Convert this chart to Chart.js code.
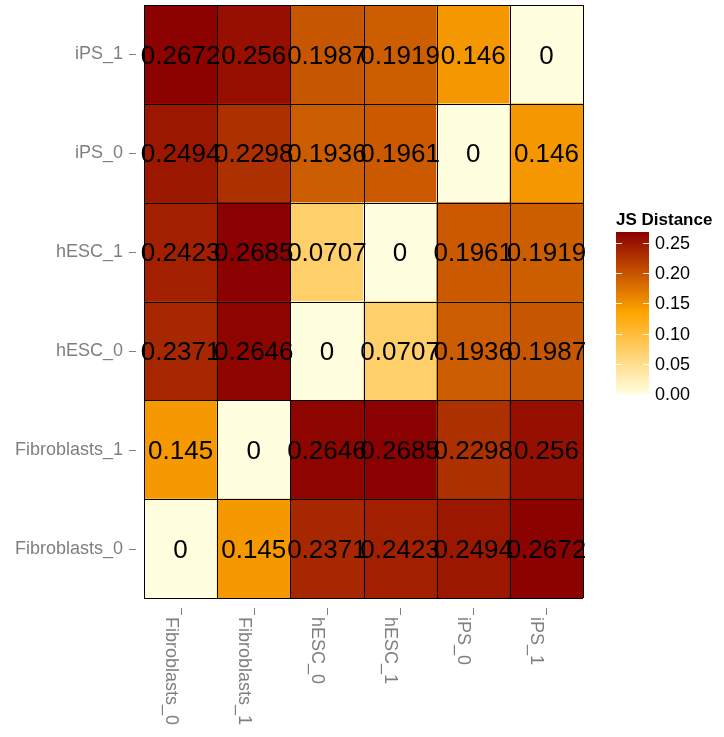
<!DOCTYPE html>
<html>
<head>
<meta charset="utf-8">
<script src="https://cdn.jsdelivr.net/npm/chart.js@4.4.1/dist/chart.umd.min.js"></script>
<style>
    html, body { margin: 0; padding: 0; background: #fff; }
</style>
</head>
<body>
<canvas id="heat" width="724" height="737"></canvas>
<script>
// samples, bottom row / left column first
var samples = ['Fibroblasts_0', 'Fibroblasts_1', 'hESC_0', 'hESC_1', 'iPS_0', 'iPS_1'];

// JS distance per row (row = y sample), columns follow samples
var distFib0 = [0, 0.145, 0.2371, 0.2423, 0.2494, 0.2672];
var distFib1 = [0.145, 0, 0.2646, 0.2685, 0.2298, 0.256];
var distHesc0 = [0.2371, 0.2646, 0, 0.0707, 0.1936, 0.1987];
var distHesc1 = [0.2423, 0.2685, 0.0707, 0, 0.1961, 0.1919];
var distIps0 = [0.2494, 0.2298, 0.1936, 0.1961, 0, 0.146];
var distIps1 = [0.2672, 0.256, 0.1987, 0.1919, 0.146, 0];

var legendTicks = [0, 0.05, 0.10, 0.15, 0.20, 0.25];
var legendTickLabels = ['0.00', '0.05', '0.10', '0.15', '0.20', '0.25'];
var legendTitle = 'JS Distance';

var rows = [distFib0, distFib1, distHesc0, distHesc1, distIps0, distIps1];
var FONT = "'Liberation Sans', Arial, Helvetica, sans-serif";
var GREY = '#7f7f7f';

// ------ colour scale: lightyellow -> orange -> darkred ------
var maxVal = Math.max.apply(null, rows.map(function(r) { return Math.max.apply(null, r); }));
var stops = [
    { v: 0, c: [255, 255, 224] },
    { v: maxVal / 2, c: [255, 165, 0] },
    { v: maxVal, c: [139, 0, 0] }
];

function fillColor(v) {
    var i = v <= stops[1].v ? 0 : 1;
    var t = (v - stops[i].v) / (stops[i + 1].v - stops[i].v);
    t = Math.max(0, Math.min(1, t));
    var a = stops[i].c, b = stops[i + 1].c;
    return 'rgb(' + Math.round(a[0] + (b[0] - a[0]) * t) + ',' +
        Math.round(a[1] + (b[1] - a[1]) * t) + ',' +
        Math.round(a[2] + (b[2] - a[2]) * t) + ')';
}

function fmt(v) { return String(v); }

// ------ extra drawing: cell borders, cell values, axis ticks, colourbar ------
var heatExtras = {
    id: 'heatExtras',
    afterDatasetsDraw: function(chart) {
        var ctx = chart.ctx;
        var xs = chart.scales.x, ys = chart.scales.y;
        var area = chart.chartArea;

        // cell borders
        ctx.save();
        ctx.strokeStyle = '#000';
        ctx.lineWidth = 1;
        ctx.beginPath();
        for (var i = 0; i <= samples.length; i++) {
            var px = Math.round(xs.getPixelForValue(i - 0.5)) + 0.5;
            ctx.moveTo(px, area.top);
            ctx.lineTo(px, area.bottom);
            var py = Math.round(ys.getPixelForValue(i)) + 0.5;
            ctx.moveTo(area.left, py);
            ctx.lineTo(area.right, py);
        }
        ctx.stroke();

        // values inside cells
        ctx.fillStyle = '#000';
        ctx.font = '26px ' + FONT;
        ctx.textAlign = 'center';
        ctx.textBaseline = 'middle';
        chart.data.datasets.forEach(function(ds, di) {
            var meta = chart.getDatasetMeta(di);
            meta.data.forEach(function(el, j) {
                ctx.fillText(fmt(ds.values[j]), el.x, (el.y + el.base) / 2 + 2);
            });
        });
        ctx.restore();
    },
    afterDraw: function(chart) {
        var ctx = chart.ctx;
        var xs = chart.scales.x, ys = chart.scales.y;
        var area = chart.chartArea;
        ctx.save();

        // y tick dashes
        ctx.strokeStyle = GREY;
        ctx.lineWidth = 1;
        ctx.beginPath();
        ys.ticks.forEach(function(t) {
            var py = Math.round(ys.getPixelForValue(t.value)) + 0.5;
            ctx.moveTo(area.left - 15, py);
            ctx.lineTo(area.left - 8, py);
        });
        // x tick dashes
        samples.forEach(function(s, i) {
            var px = Math.round(xs.getPixelForValue(i)) + 0.5;
            ctx.moveTo(px, area.bottom + 10);
            ctx.lineTo(px, area.bottom + 17);
        });
        ctx.stroke();

        // x labels, reading top to bottom
        ctx.fillStyle = GREY;
        ctx.font = '18px ' + FONT;
        ctx.textAlign = 'left';
        ctx.textBaseline = 'alphabetic';
        samples.forEach(function(s, i) {
            var px = xs.getPixelForValue(i);
            ctx.save();
            ctx.translate(px - 15, area.bottom + 19);
            ctx.rotate(Math.PI / 2);
            ctx.fillText(s, 0, 0);
            ctx.restore();
        });

        // colourbar legend
        var barX = 616, barW = 33, barTop = 232, barBottom = 394;
        var barH = barBottom - barTop;
        for (var k = 0; k < barH; k++) {
            var v = maxVal * (barH - k - 0.5) / barH;
            ctx.fillStyle = fillColor(v);
            ctx.fillRect(barX, barTop + k, barW, 1);
        }
        ctx.strokeStyle = 'rgba(255,255,255,0.85)';
        ctx.beginPath();
        legendTicks.forEach(function(v) {
            var py = Math.round(barBottom - v / maxVal * barH) + 0.5;
            ctx.moveTo(barX, py);
            ctx.lineTo(barX + 6, py);
            ctx.moveTo(barX + barW - 6, py);
            ctx.lineTo(barX + barW, py);
        });
        ctx.stroke();

        ctx.fillStyle = '#000';
        ctx.font = '18px ' + FONT;
        ctx.textBaseline = 'middle';
        legendTicks.forEach(function(v, i) {
            var py = barBottom - v / maxVal * barH;
            ctx.fillText(legendTickLabels[i], barX + barW + 6, py + 1);
        });
        ctx.font = 'bold 17px ' + FONT;
        ctx.textBaseline = 'alphabetic';
        ctx.fillText(legendTitle, barX, 225);
        ctx.restore();
    }
};

var datasets = rows.map(function(row, r) {
    return {
        label: samples[r],
        data: row.map(function() { return [r, r + 1]; }),
        values: row,
        backgroundColor: row.map(fillColor),
        borderWidth: 0,
        categoryPercentage: 1,
        barPercentage: 1,
        grouped: false
    };
});

Chart.defaults.font.family = FONT;

new Chart(document.getElementById('heat'), {
    type: 'bar',
    data: { labels: samples, datasets: datasets },
    options: {
        responsive: false,
        animation: false,
        devicePixelRatio: 1,
        layout: { padding: { left: 0, top: 5, right: 141, bottom: 0 } },
        plugins: { legend: { display: false }, tooltip: { enabled: false } },
        scales: {
            x: {
                type: 'category',
                grid: { display: false, drawTicks: false },
                border: { display: false },
                ticks: { display: false },
                afterFit: function(s) { s.height = 139; }
            },
            y: {
                type: 'linear',
                min: 0,
                max: samples.length,
                grid: { display: false, drawTicks: false, tickLength: 0 },
                border: { display: false },
                afterBuildTicks: function(s) {
                    s.ticks = samples.map(function(_, i) { return { value: i + 0.5 }; });
                },
                ticks: {
                    color: GREY,
                    font: { size: 18 },
                    padding: 21,
                    callback: function(v) { return samples[Math.floor(v)]; }
                },
                afterFit: function(s) {
                    s.width = 144;
                    s.paddingTop = 0;
                    s.paddingBottom = 0;
                }
            }
        }
    },
    plugins: [heatExtras]
});
</script>
</body>
</html>
